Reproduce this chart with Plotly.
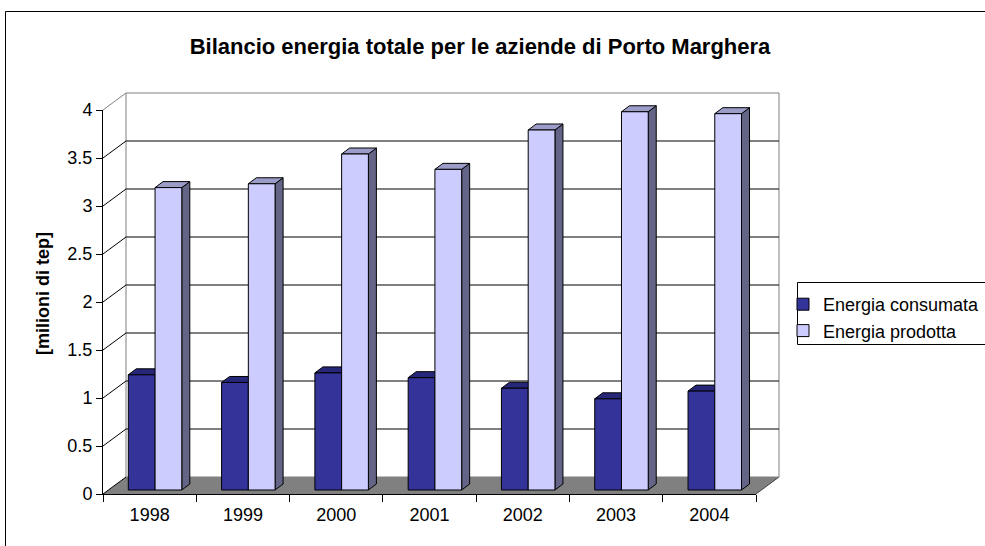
import plotly.graph_objects as go

# ---------------- data ----------------
YEARS = ["1998", "1999", "2000", "2001", "2002", "2003", "2004"]
CONSUMATA = [1.20, 1.12, 1.22, 1.17, 1.06, 0.95, 1.03]
PRODOTTA = [3.15, 3.19, 3.50, 3.34, 3.75, 3.94, 3.92]
SERIES_NAMES = ["Energia consumata", "Energia prodotta"]
Y_TICKS = [0, 0.5, 1, 1.5, 2, 2.5, 3, 3.5, 4]
TITLE = "Bilancio energia totale per le aziende di Porto Marghera"
Y_TITLE = "[milioni di tep]"

# ---------------- layout geometry (pixels) ----------------
W, H = 985, 546
FX0, FX1 = 103, 756          # front floor edge (category boundaries 0..7)
FY0, FY4 = 494, 110          # front value 0 and value 4
NCAT = len(YEARS)
PPX = (FX1 - FX0) / NCAT     # px per category
PPY = (FY0 - FY4) / 4.0      # px per unit value
DXU = 23 / PPX               # depth of the 3D box (x, in category units)
DYU = 17 / PPY               # depth of the 3D box (y, in value units)
BAR_F = 4 / 17               # depth fraction of bar front faces
BW = 26.75 / PPX             # bar width in category units
BDX = 8 / PPX                # bar depth (x)
BDY = 6 / PPY                # bar depth (y)
SHIFT = BAR_F * DXU
BASE = BAR_F * DYU

FRONT_COLORS = ["#333399", "#CCCCFF"]
TOP_COLORS = ["#27277A", "#9C9CC8"]
SIDE_COLORS = ["#1A1A4D", "#646487"]

def pxx(p):
    return p / W

def pxy(p):
    return 1 - p / H

# main drawing axes pixel box
MX0, MX1, MY0, MY1 = 95, 800, 78, 506

fig = go.Figure()

# floor
fig.add_trace(go.Scatter(
    x=[0, NCAT, NCAT + DXU, DXU, 0], y=[0, 0, DYU, DYU, 0],
    fill="toself", fillcolor="#808080", mode="lines",
    line=dict(width=0, color="#808080"), hoverinfo="skip", showlegend=False))
# floor right edge
fig.add_trace(go.Scatter(
    x=[NCAT, NCAT + DXU], y=[0, DYU], mode="lines",
    line=dict(width=1, color="#404040"), hoverinfo="skip", showlegend=False))

# gridlines: diagonal on the side, horizontal on the back wall
gx_b, gy_b, gx_g, gy_g = [], [], [], []
for v in Y_TICKS:
    if v == Y_TICKS[-1]:
        gx_g += [0, DXU, None]
        gy_g += [v, v + DYU, None]
    else:
        gx_b += [0, DXU, None]
        gy_b += [v, v + DYU, None]
    if v == Y_TICKS[0] or v == Y_TICKS[-1]:
        gx_g += [DXU, NCAT + DXU, None]
        gy_g += [v + DYU, v + DYU, None]
    else:
        gx_b += [DXU, NCAT + DXU, None]
        gy_b += [v + DYU, v + DYU, None]
# back wall vertical edges
gx_g += [DXU, DXU, None, NCAT + DXU, NCAT + DXU, None]
gy_g += [DYU, Y_TICKS[-1] + DYU, None, DYU, Y_TICKS[-1] + DYU, None]

fig.add_trace(go.Scatter(x=gx_g, y=gy_g, mode="lines",
                         line=dict(width=1, color="#808080"),
                         hoverinfo="skip", showlegend=False))
fig.add_trace(go.Scatter(x=gx_b, y=gy_b, mode="lines",
                         line=dict(width=1, color="#000000"),
                         hoverinfo="skip", showlegend=False))

# top and side faces of the bars
for s, vals in enumerate([CONSUMATA, PRODOTTA]):
    off = SHIFT + (s - 1) * BW
    tx, ty, sx, sy = [], [], [], []
    for c, v in enumerate(vals):
        xl = c + 0.5 + off
        xr = xl + BW
        t = BASE + v
        tx += [xl, xr, xr + BDX, xl + BDX, xl, None]
        ty += [t, t, t + BDY, t + BDY, t, None]
        sx += [xr, xr, xr + BDX, xr + BDX, xr, None]
        sy += [BASE, t, t + BDY, BASE + BDY, BASE, None]
    fig.add_trace(go.Scatter(x=sx, y=sy, fill="toself", fillcolor=SIDE_COLORS[s],
                             mode="lines", line=dict(width=1, color="#000000"),
                             hoverinfo="skip", showlegend=False))
    fig.add_trace(go.Scatter(x=tx, y=ty, fill="toself", fillcolor=TOP_COLORS[s],
                             mode="lines", line=dict(width=1, color="#000000"),
                             hoverinfo="skip", showlegend=False))

# front faces as real bars on the visible axes
for s, vals in enumerate([CONSUMATA, PRODOTTA]):
    fig.add_trace(go.Bar(
        x=YEARS, y=vals, base=BASE, width=BW, offset=SHIFT + (s - 1) * BW,
        name=SERIES_NAMES[s], legendgroup=SERIES_NAMES[s],
        marker=dict(color=FRONT_COLORS[s], line=dict(color="#000000", width=1)),
        xaxis="x2", yaxis="y2"))

FONT = "Arial, Liberation Sans, sans-serif"

fig.update_layout(
    width=W, height=H,
    margin=dict(l=0, r=0, t=0, b=0, pad=0, autoexpand=False),
    paper_bgcolor="white", plot_bgcolor="rgba(0,0,0,0)",
    barmode="overlay",
    font=dict(family=FONT, size=18, color="black"),
    title=dict(text="<b>" + TITLE + "</b>", x=480 / W, xanchor="center",
               y=1 - 46 / H, yanchor="middle", yref="container",
               font=dict(family=FONT, size=22, color="black")),
    xaxis=dict(domain=[pxx(MX0), pxx(MX1)],
               range=[(MX0 - FX0) / PPX, (MX1 - FX0) / PPX],
               visible=False, fixedrange=True),
    yaxis=dict(domain=[pxy(MY1), pxy(MY0)],
               range=[(FY0 - MY1) / PPY, (FY0 - MY0) / PPY],
               visible=False, fixedrange=True),
    xaxis2=dict(domain=[pxx(FX0), pxx(FX1)], anchor="y2", type="category",
                categoryorder="array", categoryarray=YEARS,
                range=[-0.5, NCAT - 0.5], tickson="boundaries",
                ticks="outside", ticklen=7, tickcolor="black",
                ticklabelstandoff=4, automargin=False, fixedrange=True,
                showline=True, linecolor="black", linewidth=1,
                showgrid=False, zeroline=False,
                tickfont=dict(family=FONT, size=18, color="black")),
    yaxis2=dict(domain=[pxy(FY0), pxy(FY4)], anchor="x2",
                range=[0, 4], tickvals=Y_TICKS,
                ticktext=[("%g" % t) for t in Y_TICKS],
                ticks="outside", ticklen=6, tickcolor="black",
                automargin=False, fixedrange=True,
                showline=True, linecolor="black", linewidth=1,
                showgrid=False, zeroline=False,
                tickfont=dict(family=FONT, size=18, color="black")),
    legend=dict(x=pxx(783), y=pxy(286), xanchor="left", yanchor="top",
                bgcolor="rgba(0,0,0,0)", borderwidth=0,
                font=dict(family=FONT, size=18, color="black"),
                tracegroupgap=4, traceorder="normal"),
    annotations=[
        dict(text="<b>" + Y_TITLE + "</b>", xref="paper", yref="paper",
             x=pxx(43), y=pxy(294), textangle=-90, showarrow=False,
             xanchor="center", yanchor="middle",
             font=dict(family=FONT, size=18, color="black")),
    ],
    shapes=[
        dict(type="rect", xref="paper", yref="paper",
             x0=pxx(5.5), x1=pxx(1000), y0=pxy(11.5), y1=pxy(560),
             line=dict(color="black", width=1), fillcolor="rgba(0,0,0,0)",
             layer="above"),
        dict(type="rect", xref="paper", yref="paper",
             x0=pxx(797.5), x1=pxx(1000), y0=pxy(282.5), y1=pxy(344.5),
             line=dict(color="black", width=1), fillcolor="rgba(0,0,0,0)"),
    ],
)

fig.write_html("out.html", config={"displayModeBar": False, "staticPlot": True},
               post_script="document.body.style.margin='0';document.body.style.overflow='hidden';")
